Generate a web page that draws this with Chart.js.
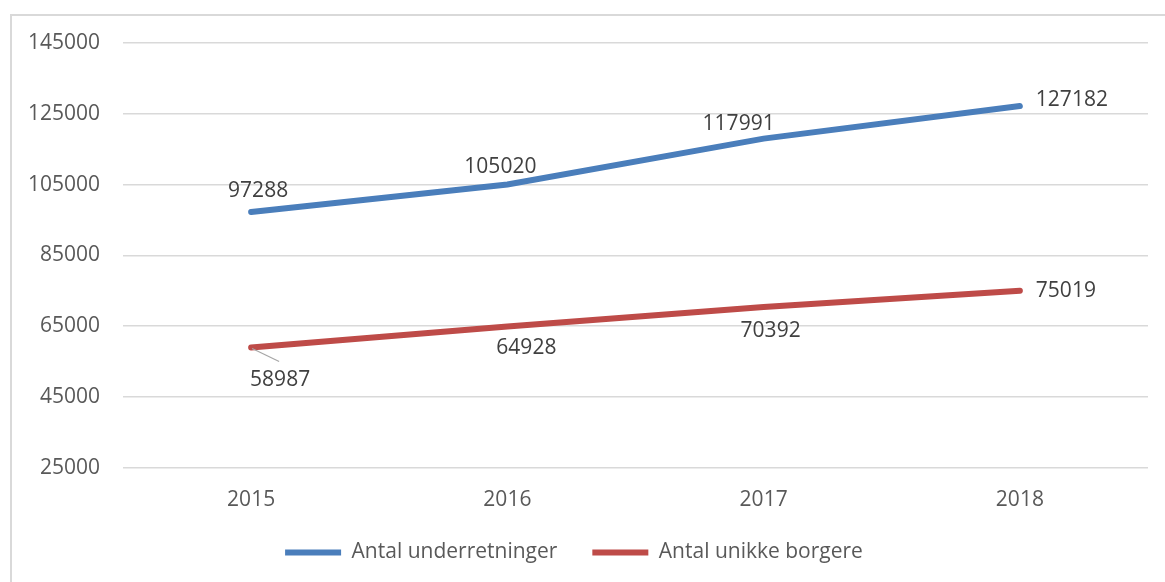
<!DOCTYPE html>
<html>
<head>
	<title>Underretninger</title>
	<script src="https://cdn.jsdelivr.net/npm/chart.js@4.4.0/dist/chart.umd.min.js"></script>
	<style>
		html, body {margin: 0; padding: 0; background: #fff; overflow: hidden;}
		.frame {position: absolute; left: 10px; top: 14px; width: 1200px; height: 620px;
			border-left: 2px solid #d9d9d9; border-top: 2px solid #d9d9d9;}
		.wrap {position: absolute; left: 0; top: 0; width: 1165px; height: 582px;}
	</style>
</head>
<body>
<div class="frame"></div>
<div class="wrap"><canvas id="myChart" width="1165" height="582"></canvas></div>

<script>
var years = ['2015', '2016', '2017', '2018'];
var underretninger = [97288, 105020, 117991, 127182];
var unikkeBorgere = [58987, 64928, 70392, 75019];
var yTicks = [25000, 45000, 65000, 85000, 105000, 125000, 145000];

// where each value label sits, relative to its point (dx, dy)
var blueLabelPos = [[7, -21], [-7, -18], [-25, -15], [52, -6]];
var redLabelPos = [[29, 33], [19, 22], [7, 24], [46, 0]];

var fontFamily = "'Open Sans', 'Noto Sans', sans-serif";

var valueLabels = {
	id: 'valueLabels',
	afterDatasetsDraw: function(chart) {
		var ctx = chart.ctx;
		var positions = [blueLabelPos, redLabelPos];
		ctx.save();
		// leader line for the first red label
		var p0 = chart.getDatasetMeta(1).data[0];
		ctx.strokeStyle = '#a6a6a6';
		ctx.lineWidth = 1.2;
		ctx.beginPath();
		ctx.moveTo(p0.x + 1, p0.y + 1);
		ctx.lineTo(p0.x + 28, p0.y + 14);
		ctx.stroke();

		ctx.font = '21px ' + fontFamily;
		ctx.fillStyle = '#404040';
		ctx.textAlign = 'center';
		ctx.textBaseline = 'middle';
		chart.data.datasets.forEach(function(ds, i) {
			var meta = chart.getDatasetMeta(i);
			meta.data.forEach(function(pt, j) {
				var off = positions[i][j];
				ctx.fillText(String(ds.data[j]), pt.x + off[0], pt.y + off[1]);
			});
		});
		ctx.restore();
	}
};

var ctx = document.getElementById('myChart').getContext('2d');
var chart = new Chart(ctx, {
	type: 'line',
	data: {
		labels: years,
		datasets: [{
			label: 'Antal underretninger',
			data: underretninger,
			borderColor: '#4a7ebb',
			backgroundColor: '#4a7ebb',
			borderWidth: 6,
			borderCapStyle: 'round',
			pointRadius: 0,
			tension: 0
		}, {
			label: 'Antal unikke borgere',
			data: unikkeBorgere,
			borderColor: '#be4b48',
			backgroundColor: '#be4b48',
			borderWidth: 6,
			borderCapStyle: 'round',
			pointRadius: 0,
			tension: 0
		}]
	},
	options: {
		responsive: false,
		animation: false,
		layout: {padding: {left: 0, right: 17, top: 43, bottom: 9}},
		scales: {
			x: {
				offset: true,
				afterFit: function(scale) { scale.height = scale.height - 26; },
				grid: {display: false, drawTicks: false},
				border: {display: false},
				ticks: {color: '#595959', padding: 20, font: {family: fontFamily, size: 21}}
			},
			y: {
				min: 25000,
				max: 145000,
				afterBuildTicks: function(scale) {
					scale.ticks = yTicks.map(function(v) { return {value: v}; });
				},
				afterFit: function(scale) { scale.width = 123; },
				grid: {color: '#d9d9d9', lineWidth: 1.5, drawTicks: false},
				border: {display: false},
				ticks: {color: '#595959', padding: 23, font: {family: fontFamily, size: 21},
					callback: function(v) { return String(v); }}
			}
		},
		plugins: {
			legend: {
				position: 'bottom',
				labels: {
					usePointStyle: true,
					pointStyle: 'line',
					pointStyleWidth: 56,
					boxHeight: 20,
					padding: 35,
					color: '#595959',
					font: {family: fontFamily, size: 21}
				}
			},
			tooltip: {enabled: false}
		}
	},
	plugins: [valueLabels]
});
</script>
</body>
</html>
